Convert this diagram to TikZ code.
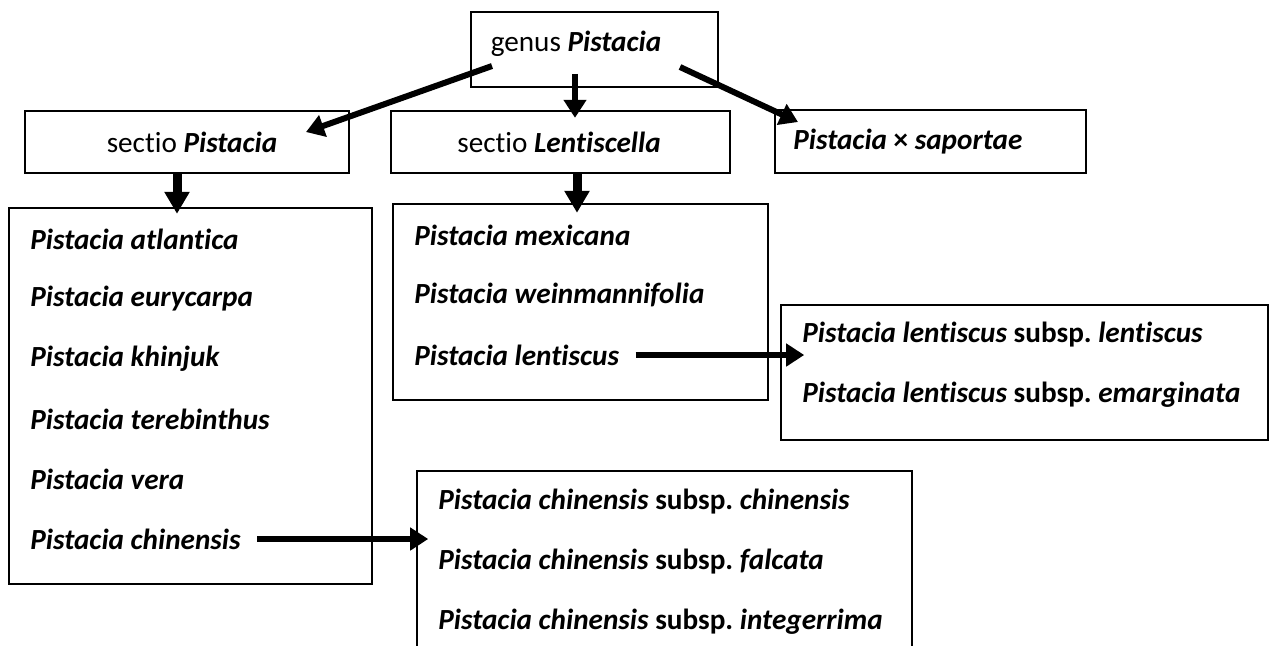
\documentclass[tikz,border=0pt]{standalone}
\usepackage{fontspec}
\setmainfont[Ligatures=NoCommon]{Carlito}
\usetikzlibrary{arrows.meta,positioning}
\frenchspacing
\newcommand{\spname}[1]{\textbf{\textit{#1}}}
\tikzset{
  box/.style={draw=black, line width=0.8pt, inner sep=0pt},
  entry/.style={anchor=west, inner sep=0pt},
  arr/.style={line width=3pt, -{Triangle[length=9pt,width=11pt]}},
  fatarr/.style={line width=4.5pt, -{Triangle[length=11pt,width=12pt]}}
}
\begin{document}
\begin{tikzpicture}[x=0.5pt, y=-0.5pt, every node/.style={font=\fontsize{14.6pt}{17pt}\selectfont}]
  \clip (0,0) rectangle (1269,645);

  % top row
  \node[box, minimum width=123.5pt, minimum height=37.5pt] (genus) at (594.5,49.5) {};
  \node (genustxt) at (576,44) {genus \spname{Pistacia}};

  \node[box, minimum width=162pt, minimum height=31pt] (secP) at (187,142) {};
  \node (secPtxt) at (192,142) {sectio \spname{Pistacia}};

  \node[box, minimum width=169.5pt, minimum height=31pt] (secL) at (560.5,142) {};
  \node (secLtxt) at (559,142) {sectio \spname{Lentiscella}};

  \node[box, minimum width=155.5pt, minimum height=31.5pt] (hyb) at (930.5,141.5) {};
  \node[entry] (hybtxt) at (793,142) {\spname{Pistacia} \textbf{×} \spname{saportae}};

  % species boxes
  \node[box, minimum width=181.5pt, minimum height=188pt] (listP) at (190.5,396) {};
  \foreach \i/\n in {0/atlantica,1/eurycarpa,2/khinjuk,3/terebinthus,4/vera,5/chinensis}
    \node[entry] (p\n) at (30,{239+60*\i}) {\spname{Pistacia \n}};

  \node[box, minimum width=187.5pt, minimum height=98pt] (listL) at (580.5,302) {};
  \foreach \i/\n in {0/mexicana,1/weinmannifolia,2/lentiscus}
    \node[entry] (l\n) at (414,{235+60*\i}) {\spname{Pistacia \n}};

  % subspecies boxes
  \node[box, minimum width=243.5pt, minimum height=67.5pt] (subL) at (1024.5,372.5) {};
  \foreach \i/\n in {0/lentiscus,1/emarginata}
    \node[entry] (sl\n) at (802,{335+60*\i}) {\spname{Pistacia lentiscus} \textbf{subsp.} \spname{\n}};

  \node[box, minimum width=247.5pt, minimum height=104pt] (subC) at (664.5,575) {};
  \foreach \i/\n in {0/chinensis,1/falcata,2/integerrima}
    \node[entry] (sc\n) at (438,{502+60*\i}) {\spname{Pistacia chinensis} \textbf{subsp.} \spname{\n}};

  % arrows
  \coordinate (gl) at (492,66);
  \coordinate (gr) at (680,67);
  \coordinate (tl) at (306,132);
  \coordinate (tr) at (798,122);
  \draw[arr] (gl) -- (tl);
  \draw[arr] (gr) -- (tr);
  \draw[arr] ([xshift=-9.75pt,yshift=7pt]genus.south) -- ++(0,44);
  \draw[fatarr] ([xshift=-5pt]secP.south) -- ++(0,40);
  \draw[fatarr] ([xshift=8.25pt]secL.south) -- ++(0,39);
  \draw[arr] ([xshift=8pt]pchinensis.east) -- ([xshift=6pt]subC.west |- pchinensis);
  \draw[arr] ([xshift=8pt]llentiscus.east) -- ([xshift=12pt]subL.west |- llentiscus);
\end{tikzpicture}
\end{document}
